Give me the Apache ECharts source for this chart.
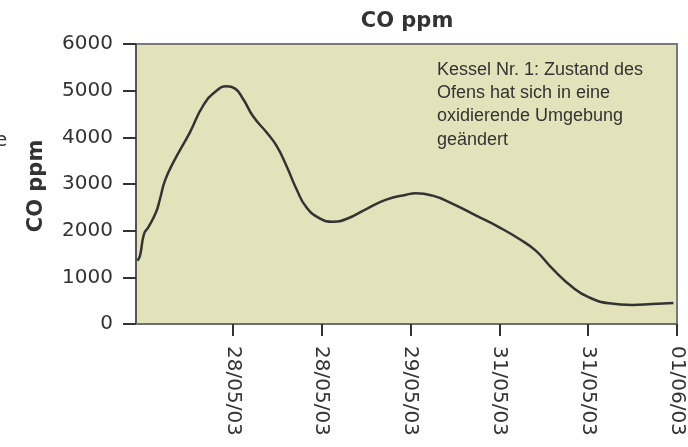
<!DOCTYPE html>
<html>
<head>
<meta charset="utf-8">
<script src="https://cdn.jsdelivr.net/npm/echarts@6/dist/echarts.min.js"></script>
<style>html,body{margin:0;padding:0;background:#fff;}#c{width:688px;height:447px;}</style>
</head>
<body>
<div id="c"></div>
<script>
// Tick labels (positions 0..5 on the x index axis)
const tickLabels = ['28/05/03', '28/05/03', '29/05/03', '31/05/03', '31/05/03', '01/06/03'];
const tickPositions = [0, 1, 2, 3, 4, 5];
const yTicks = [0, 1000, 2000, 3000, 4000, 5000, 6000];
// Series: x in tick-index units, CO in ppm
const xPos = [-1.075, -1.045, -1.0, -0.952, -0.865, -0.82, -0.764, -0.67, -0.483, -0.334, -0.183, -0.071, 0.022, 0.116, 0.228, 0.379, 0.491, 0.603, 0.716, 0.828, 0.978, 1.127, 1.278, 1.502, 1.727, 1.952, 2.06, 2.25, 2.44, 2.74, 3.0, 3.225, 3.41, 3.6, 3.825, 4.01, 4.236, 4.5, 4.72, 4.96];
const coPpm = [1357, 1464, 1929, 2071, 2393, 2679, 3071, 3464, 4107, 4679, 5000, 5093, 5050, 4821, 4450, 4107, 3821, 3393, 2893, 2500, 2264, 2193, 2250, 2464, 2664, 2771, 2800, 2750, 2607, 2321, 2071, 1821, 1571, 1179, 786, 571, 443, 407, 429, 450];
const titleText = 'CO ppm';
const yName = 'CO ppm';
const note = 'Kessel Nr. 1: Zustand des\nOfens hat sich in eine\noxidierende Umgebung\ngeändert';

const chart = echarts.init(document.getElementById('c'), null, {renderer: 'canvas'});
const txt = '#333';
chart.setOption({
  animation: false,
  grid: {left: 136, right: 11, top: 44, bottom: 123, show: true, backgroundColor: '#e3e3bb', borderColor: '#7a7a7a', borderWidth: 2},
  xAxis: {
    type: 'value', min: -1.09, max: 5,
    axisLine: {show: true, onZero: false, lineStyle: {color: '#6f6f6f', width: 2}},
    axisTick: {show: true, customValues: tickPositions, length: 12, lineStyle: {color: '#333', width: 2}},
    axisLabel: {customValues: tickPositions, rotate: -90, margin: 22, color: txt, fontFamily: 'DejaVu Sans', fontSize: 20,
      formatter: v => tickLabels[Math.round(v)]},
    splitLine: {show: false}
  },
  yAxis: {
    type: 'value', min: 0, max: 6000, interval: 1000,
    axisLine: {show: true, onZero: false, lineStyle: {color: '#555', width: 2}},
    axisTick: {show: true, customValues: yTicks, length: 13, lineStyle: {color: '#333', width: 2}},
    axisLabel: {customValues: yTicks, margin: 23, color: txt, fontFamily: 'DejaVu Sans', fontSize: 20,
      formatter: v => String(v)},
    splitLine: {show: false}
  },
  series: [{
    type: 'line', smooth: 0.5, showSymbol: false,
    lineStyle: {color: '#333', width: 2.5},
    data: xPos.map((x, i) => [x, coPpm[i]])
  }],
  graphic: [
    {type: 'text', x: 407, y: 22, style: {text: titleText, align: 'center', verticalAlign: 'middle', fill: txt, font: 'bold 21px "DejaVu Sans"'}},
    {type: 'text', x: 37, y: 186, rotation: Math.PI / 2, style: {text: yName, align: 'center', verticalAlign: 'middle', fill: txt, font: 'bold 21px "DejaVu Sans"'}},
    {type: 'text', x: -5, y: 141, style: {text: 'e', align: 'left', verticalAlign: 'middle', fill: txt, font: '20px "DejaVu Sans"'}},
    {type: 'text', x: 437, y: 58, style: {text: note, fill: txt, font: '18px "Liberation Sans"', lineHeight: 23.3}}
  ]
});
</script>
</body>
</html>
